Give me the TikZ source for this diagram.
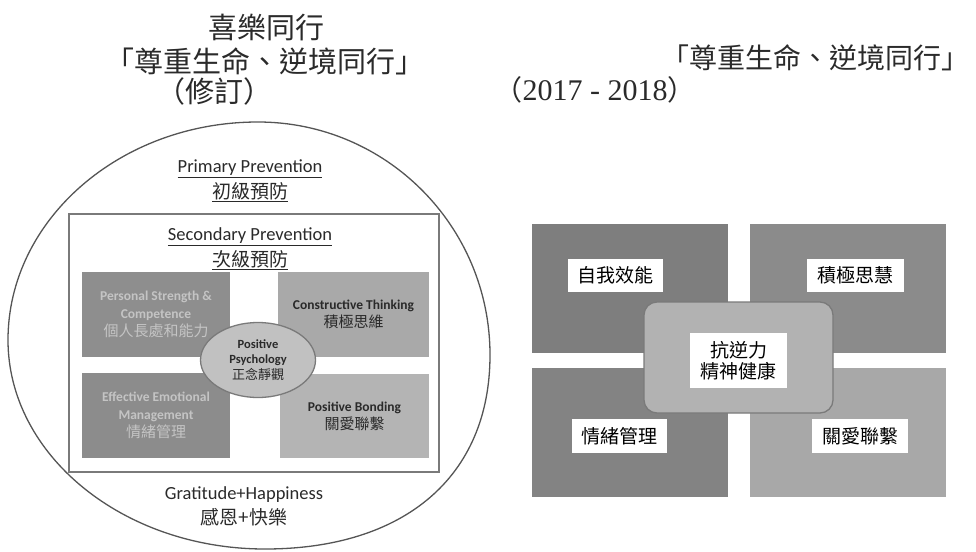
\documentclass[tikz,border=0pt]{standalone}
\usepackage{fontspec}
\setmainfont{Carlito}
\newfontfamily\cjk{Noto Sans CJK TC}
\newfontfamily\numfont{Liberation Serif}
\usetikzlibrary{shapes.geometric}
\definecolor{lineg}{HTML}{555555}
\definecolor{rectg}{HTML}{7A7A7A}
\definecolor{txt}{HTML}{2A2A2A}
\definecolor{lTL}{HTML}{8E8E8E}
\definecolor{lTR}{HTML}{A9A9A9}
\definecolor{lBL}{HTML}{8C8C8C}
\definecolor{lBR}{HTML}{B4B4B4}
\definecolor{fadetxt}{HTML}{C4C4C4}
\definecolor{rTL}{HTML}{7E7E7E}
\definecolor{rTR}{HTML}{8B8B8B}
\definecolor{rBL}{HTML}{838383}
\definecolor{rBR}{HTML}{A8A8A8}
\definecolor{rC}{HTML}{B2B2B2}
\begin{document}
\begin{tikzpicture}[x=1pt,y=-1pt,
  titletxt/.style={inner sep=0pt,text=txt,font=\cjk\fontsize{29}{31}\selectfont},
  headtxt/.style={inner sep=0pt,text=txt,align=center,font=\fontsize{18.5}{22}\selectfont},
  headcjk/.style={inner sep=0pt,text=txt,align=center,font=\cjk\fontsize{19}{22}\selectfont},
  lquad/.style={rectangle,inner sep=0pt,align=center,font=\bfseries\fontsize{13.5}{18}\selectfont},
  rquad/.style={rectangle,inner sep=0pt},
  rlabel/.style={rectangle,fill=white,inner sep=0pt,text=black,font=\cjk\fontsize{19}{21}\selectfont}]
\useasboundingbox (0,0) rectangle (976,551);
\fill[white] (0,0) rectangle (976,551);
% ---- titles ----
\node[titletxt] (t1) at (266,27) {喜樂同行};
\node[titletxt] (t2) at (265,61) {「尊重生命、逆境同行」};
\node[titletxt] (t3) at (214,91) {（修訂）};
\node[titletxt,font=\cjk\fontsize{28}{30}\selectfont] (t4) at (815,58) {「尊重生命、逆境同行」};
\node[titletxt,font=\cjk\fontsize{28}{30}\selectfont] (t5) at (595,90) {（{\numfont\fontsize{30}{30}\selectfont 2017 - 2018}）};
% ---- left diagram ----
\coordinate (ctop) at (258,122);
\coordinate (cright) at (490,355);
\coordinate (cbot) at (265,549);
\coordinate (cleft) at (8,340);
\draw[lineg,line width=1.3pt] (ctop) .. controls (386,122) and (490,226) .. (cright)
  .. controls (490,477) and (404,549) .. (cbot)
  .. controls (123,549) and (8,455) .. (cleft)
  .. controls (8,220) and (120,122) .. (ctop) -- cycle;
\node[draw=rectg,line width=1.5pt,minimum width=370pt,minimum height=258pt,inner sep=0pt] (sec) at (254,343) {};
\node[headtxt] (prim) at (250,169) {\underline{Primary Prevention}};
\node[headcjk] (primc) at (250,192) {\underline{初級預防}};
\node[headtxt] (secl) at (250,237) {\underline{Secondary Prevention}};
\node[headcjk] (secc) at (250,260) {\underline{次級預防}};
\node[lquad,fill=lTL,minimum width=148pt,minimum height=85pt,text=fadetxt] (q1) at (156,314.5)
  {Personal Strength \&\\Competence\\{\cjk\mdseries\fontsize{15}{18}\selectfont 個人長處和能力}};
\node[lquad,fill=lTR,minimum width=151pt,minimum height=85pt,text=txt] (q2) at (353.5,314.5)
  {Constructive Thinking\\{\cjk\mdseries\fontsize{15}{18}\selectfont 積極思維}};
\node[lquad,fill=lBL,minimum width=148pt,minimum height=85pt,text=fadetxt] (q3) at (156,415.5)
  {Effective Emotional\\Management\\{\cjk\mdseries\fontsize{15}{18}\selectfont 情緒管理}};
\node[lquad,fill=lBR,minimum width=149pt,minimum height=84pt,text=txt] (q4) at (354.5,416)
  {Positive Bonding\\{\cjk\mdseries\fontsize{15}{18}\selectfont 關愛聯繫}};
\node[ellipse,draw=rectg,line width=1.3pt,fill=rC!80!white,minimum width=115pt,minimum height=75pt,inner sep=0pt,
  align=center,text=txt,font=\bfseries\fontsize{12.5}{15.5}\selectfont] (pp) at (258,360)
  {Positive\\Psychology\\{\cjk\mdseries\fontsize{13}{15.5}\selectfont 正念靜觀}};
\node[headtxt] (grat) at (244,495) {Gratitude+Happiness};
\node[headcjk] (gratc) at (244,517) {感恩+快樂};
% ---- right diagram ----
\node[rquad,fill=rTL,minimum width=196pt,minimum height=129pt] (r1) at (630,288.5) {};
\node[rquad,fill=rTR,minimum width=196pt,minimum height=129pt] (r2) at (848,288.5) {};
\node[rquad,fill=rBL,minimum width=196pt,minimum height=129pt] (r3) at (630,432.5) {};
\node[rquad,fill=rBR,minimum width=196pt,minimum height=129pt] (r4) at (848,432.5) {};
\node[rlabel,minimum width=95pt,minimum height=33pt] (l1) at (615.5,275.5) {自我效能};
\node[rlabel,minimum width=97pt,minimum height=33pt] (l2) at (855.5,275.5) {積極思慧};
\node[rlabel,minimum width=95pt,minimum height=34pt] (l3) at (619.5,436) {情緒管理};
\node[rlabel,minimum width=96pt,minimum height=34pt] (l4) at (860,436) {關愛聯繫};
\node[rectangle,rounded corners=13pt,draw=rectg,line width=1.3pt,fill=rC,minimum width=189pt,minimum height=111pt,inner sep=0pt] (rc) at (738.5,357.5) {};
\node[rlabel,minimum width=97pt,minimum height=55pt,align=center,font=\cjk\fontsize{19}{21}\selectfont] (rci) at (738.5,360.5) {抗逆力\\精神健康};
\end{tikzpicture}
\end{document}
